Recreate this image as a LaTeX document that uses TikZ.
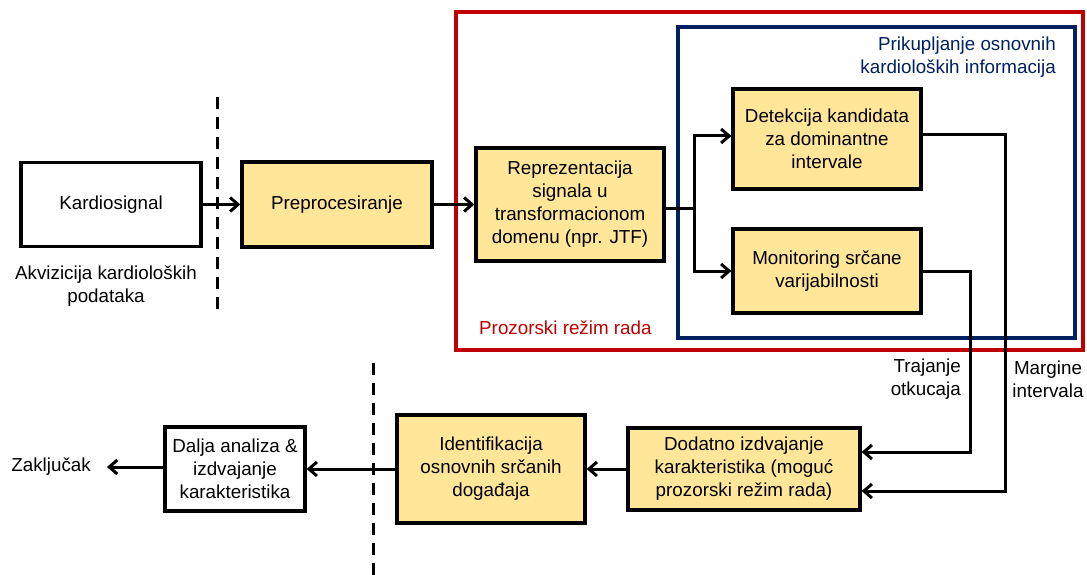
\documentclass[tikz,border=0pt]{standalone}
\usepackage{fontspec}
\setmainfont{Liberation Sans}
\usetikzlibrary{arrows.meta}
\definecolor{boxfill}{RGB}{255,230,153}
\definecolor{winred}{RGB}{192,0,0}
\definecolor{navy}{RGB}{0,32,96}
\tikzset{
  blk/.style={draw=black, line width=3.3pt, align=center, inner sep=0pt,
    font=\fontsize{18.8}{23}\selectfont},
  stage/.style={blk, fill=boxfill},
  plain/.style={blk, fill=white},
  lbl/.style={align=center, inner sep=0pt, font=\fontsize{18.8}{23}\selectfont},
  conn/.style={line width=3pt, -{Straight Barb[length=8pt,width=14pt,line width=3pt]}},
  wire/.style={line width=3pt},
  sep/.style={line width=3pt, dash pattern=on 12pt off 8pt}
}
\begin{document}
\begin{tikzpicture}[x=1pt,y=-1pt]
\useasboundingbox (0,0) rectangle (1087,575);

% window frame and inner frame
\draw[winred, line width=3.2pt] (456,12) rectangle (1083,350);
\draw[navy, line width=3.2pt] (678,27) rectangle (1075,338);
\node[lbl, text=navy, anchor=east, align=right] (inftitle) at (1056,57)
  {Prikupljanje osnovnih\\kardioloških informacija};
\node[lbl, text=winred, anchor=west] (wintitle) at (479,328) {Prozorski režim rada};

% separators
\draw[sep] (217,97) -- (217,315);
\draw[sep] (373,363) -- (373,575);

% upper row
\node[plain, minimum width=180pt, minimum height=84pt] (ks) at (111,204.5) {Kardiosignal};
\node[lbl] (akv) at (106,286) {Akvizicija kardioloških\\podataka};
\node[stage, minimum width=190pt, minimum height=85pt] (pre) at (337,204.5) {Preprocesiranje};
\node[stage, minimum width=188pt, minimum height=113pt] (rep) at (570,204.5)
  {Reprezentacija\\signala u\\transformacionom\\domenu (npr. JTF)};
\node[stage, minimum width=188pt, minimum height=100pt] (det) at (827,139)
  {Detekcija kandidata\\za dominantne\\intervale};
\node[stage, minimum width=188pt, minimum height=84pt] (mon) at (827,271)
  {Monitoring srčane\\varijabilnosti};

% lower row
\node[stage, minimum width=232pt, minimum height=82pt] (dod) at (744,469)
  {Dodatno izdvajanje\\karakteristika (moguć\\prozorski režim rada)};
\node[stage, minimum width=188pt, minimum height=108pt] (idf) at (491,469)
  {Identifikacija\\osnovnih srčanih\\događaja};
\node[plain, minimum width=140pt, minimum height=84pt] (dal) at (235,469)
  {Dalja analiza \&\\izdvajanje\\karakteristika};
\node[lbl, anchor=east] (zak) at (91,467) {Zaključak};
\coordinate (zakend) at (107,467);

\node[lbl, anchor=east, align=right] (traj) at (961,379) {Trajanje\\otkucaja};
\node[lbl] (marg) at (1048,379) {Margine\\intervala};

% connectors
\coordinate (br) at (694,208);
\draw[conn] (ks) -- (pre);
\draw[conn] (pre) -- (rep);
\draw[wire] (rep.east |- br) -- (br);
\draw[conn] (br) |- (det.west |- 0,136);
\draw[conn] (br) |- (mon.west |- 0,271);
\coordinate (dr) at (1005,135);
\coordinate (mr) at (970,271);
\draw[conn] (det.east |- dr) -- (dr) |- (dod.east |- 0,491);
\draw[conn] (mon.east |- mr) -- (mr) |- (dod.east |- 0,452);
\draw[conn] (dod) -- (idf);
\draw[conn] (idf) -- (dal);
\draw[conn] (dal.west |- zakend) -- (zakend);
\end{tikzpicture}
\end{document}
